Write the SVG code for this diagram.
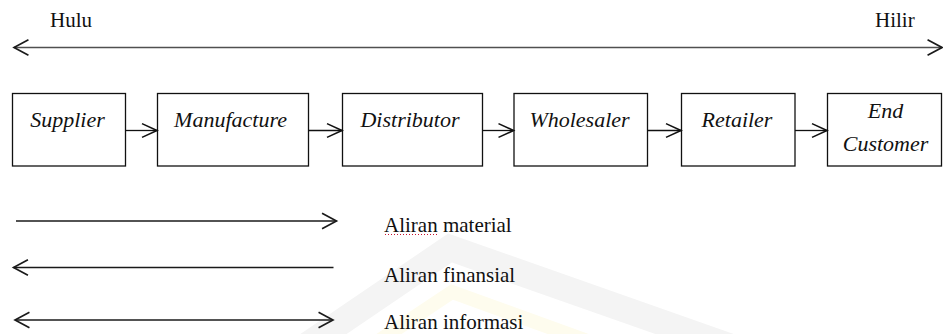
<svg xmlns="http://www.w3.org/2000/svg" width="943" height="334" viewBox="0 0 943 334">
  <style>
    .box { fill: #ffffff; stroke: #111111; stroke-width: 1.3; }
    .lbl { font-style: italic; font-size: 22px; fill: #111111; text-anchor: middle; }
    .txt { font-size: 21px; fill: #111111; }
    .link { fill: none; stroke: #111111; stroke-width: 1.3; }
    .axis { fill: none; stroke: #505050; stroke-width: 1.6; }
    .flow { fill: none; stroke: #1a1a1a; stroke-width: 1.4; }
  </style>
  <defs>
    <marker id="head" markerUnits="userSpaceOnUse" markerWidth="20" markerHeight="20" viewBox="-14 -8 16 16" refX="0" refY="0" orient="auto-start-reverse">
      <path d="M-12,-5.5 L0,0 L-12,5.5" fill="none" stroke="#111111" stroke-width="1.3"/>
    </marker>
    <marker id="headL" markerUnits="userSpaceOnUse" markerWidth="20" markerHeight="20" viewBox="-15 -9 17 18" refX="0" refY="0" orient="auto-start-reverse">
      <path d="M-13,-7 L0,0 L-13,7" fill="none" stroke="#1a1a1a" stroke-width="1.5"/>
    </marker>
  </defs>

  <rect width="943" height="334" fill="#ffffff"/>

  <!-- faint background emblem -->
  <g id="emblem" fill="none" stroke-linejoin="miter">
    <polyline points="300,350 450,248 740,350" stroke="#f4f4f4" stroke-width="26"/>
    <polyline points="350,360 452,292 640,360" stroke="#fefcee" stroke-width="14"/>
  </g>

  <g font-family="Liberation Serif, Times New Roman, serif">
    <!-- upstream / downstream axis -->
    <g id="axis">
      <line class="axis" x1="14" y1="47.5" x2="942" y2="47.5" marker-start="url(#headL)" marker-end="url(#headL)"/>
      <text class="txt" x="50" y="27">Hulu</text>
      <text class="txt" x="875" y="27">Hilir</text>
    </g>

    <!-- chain members -->
    <g id="supplier">
      <rect class="box" x="12.5" y="93.5" width="113" height="72.5"/>
      <text class="lbl" x="67.5" y="127">Supplier</text>
    </g>
    <g id="manufacture">
      <rect class="box" x="157.5" y="93.5" width="151" height="72.5"/>
      <text class="lbl" x="230.5" y="127">Manufacture</text>
    </g>
    <g id="distributor">
      <rect class="box" x="342.5" y="93.5" width="140" height="72.5"/>
      <text class="lbl" x="410" y="127">Distributor</text>
    </g>
    <g id="wholesaler">
      <rect class="box" x="514" y="93.5" width="133.5" height="72.5"/>
      <text class="lbl" x="579.5" y="127">Wholesaler</text>
    </g>
    <g id="retailer">
      <rect class="box" x="681.5" y="93.5" width="113.5" height="72.5"/>
      <text class="lbl" x="737" y="127">Retailer</text>
    </g>
    <g id="end-customer">
      <rect class="box" x="827.5" y="93.5" width="114" height="72.5"/>
      <text class="lbl" x="885.5" y="118">End</text>
      <text class="lbl" x="885.5" y="151">Customer</text>
    </g>

    <!-- connectors between members -->
    <g id="connectors">
      <line class="link" x1="125.5" y1="130.5" x2="157" y2="130.5" marker-end="url(#head)"/>
      <line class="link" x1="308.5" y1="130.5" x2="342" y2="130.5" marker-end="url(#head)"/>
      <line class="link" x1="482.5" y1="130.5" x2="513.5" y2="130.5" marker-end="url(#head)"/>
      <line class="link" x1="647.5" y1="130.5" x2="681" y2="130.5" marker-end="url(#head)"/>
      <line class="link" x1="795" y1="130.5" x2="827" y2="130.5" marker-end="url(#head)"/>
    </g>

    <!-- legend of flows -->
    <g id="legend">
      <line class="flow" x1="16" y1="221" x2="336.5" y2="221" marker-end="url(#headL)"/>
      <text class="txt" x="384" y="232">Aliran material</text>
      <line x1="385" y1="234.5" x2="437" y2="234.5" stroke="#c8102e" stroke-width="1" stroke-dasharray="1 2"/>

      <line class="flow" x1="13.5" y1="267.5" x2="333.5" y2="267.5" marker-start="url(#headL)"/>
      <text class="txt" x="384" y="281.5">Aliran finansial</text>

      <line class="flow" x1="15" y1="320" x2="333" y2="320" marker-start="url(#headL)" marker-end="url(#headL)"/>
      <text class="txt" x="384" y="328.5">Aliran informasi</text>
    </g>
  </g>
</svg>
